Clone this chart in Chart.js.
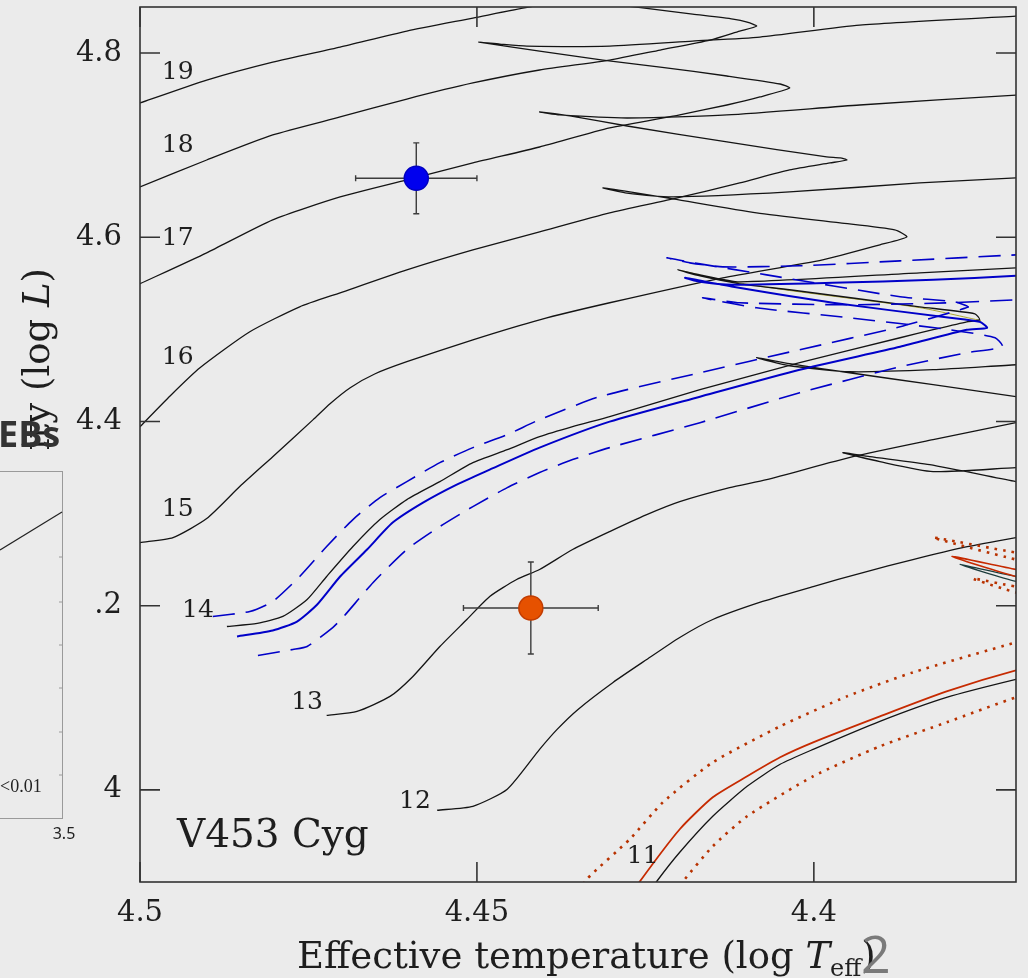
<!DOCTYPE html>
<html>
<head>
<meta charset="utf-8">
<script src="https://cdn.jsdelivr.net/npm/chart.js@4.4.1/dist/chart.umd.min.js"></script>
<style>
  html, body { margin: 0; padding: 0; background: #ebebeb; }
  #wrap { width: 1028px; height: 978px; position: relative; }
</style>
</head>
<body>
<div id="wrap"><canvas id="hrd"></canvas></div>
<script>
// evolutionary tracks, [log Teff, log L]
const track19 = [[4.503,4.738],[4.5,4.7458],[4.4901,4.7707],[4.4803,4.7902],[4.4703,4.8065],[4.4604,4.8239],[4.4506,4.8380],[4.4424,4.8499],[4.4370,4.8560]];
const track18 = [[4.503,4.6458],[4.5,4.6547],[4.4901,4.6839],[4.4803,4.7111],[4.4703,4.7306],[4.4604,4.7501],[4.4506,4.7675],[4.4407,4.7816],[4.4303,4.7924],[4.4228,4.8033],[4.4154,4.8141],[4.4110,4.8239],[4.4085,4.8293],[4.4099,4.8336],[4.4120,4.8369],[4.4180,4.8423],[4.4263,4.8499],[4.4318,4.8542]];
const track17 = [[4.503,4.5393],[4.5,4.5495],[4.4901,4.5831],[4.4803,4.6189],[4.4703,4.6438],[4.4604,4.6623],[4.4506,4.6807],[4.4407,4.6980],[4.4303,4.7187],[4.4199,4.7330],[4.4129,4.7436],[4.4080,4.7523],[4.4036,4.7620],[4.4050,4.7664],[4.4129,4.7751],[4.4228,4.7848],[4.4313,4.7924],[4.4407,4.8022],[4.4497,4.8119],[4.4466,4.8098],[4.4426,4.8076],[4.4303,4.8076],[4.4180,4.8130],[4.4080,4.8174],[4.3932,4.8304],[4.3700,4.8401],[4.3660,4.8425]];
const track16 = [[4.502,4.3794],[4.5,4.3944],[4.4955,4.4280],[4.4911,4.4583],[4.4837,4.4974],[4.4763,4.5245],[4.4703,4.5397],[4.4604,4.5646],[4.4506,4.5863],[4.4407,4.6059],[4.4303,4.6265],[4.4209,4.6416],[4.4110,4.6590],[4.4036,4.6731],[4.3976,4.6807],[4.3951,4.6839],[4.3961,4.6861],[4.3981,4.6872],[4.4129,4.7035],[4.4277,4.7208],[4.4362,4.7317],[4.4407,4.7360],[4.4377,4.7328],[4.4277,4.7295],[4.4129,4.7328],[4.3932,4.7436],[4.3700,4.7544],[4.3660,4.7560]];
const track15 = [[4.503,4.2646],[4.5,4.2685],[4.4951,4.2740],[4.4901,4.2946],[4.4852,4.3293],[4.4803,4.3618],[4.4743,4.4020],[4.4718,4.4193],[4.4688,4.4367],[4.4651,4.4518],[4.4604,4.4649],[4.4506,4.4887],[4.4407,4.5104],[4.4303,4.5289],[4.4135,4.5560],[4.3987,4.5755],[4.3902,4.5918],[4.3862,4.6004],[4.3880,4.6080],[4.3961,4.6156],[4.4085,4.6265],[4.4209,4.6416],[4.4273,4.6492],[4.4313,4.6536],[4.4280,4.6482],[4.4209,4.6438],[4.4036,4.6492],[4.3843,4.6590],[4.3700,4.6644],[4.3660,4.6650]];
const track14 = [[4.4871,4.1774],[4.4826,4.1807],[4.4788,4.1883],[4.4752,4.2067],[4.4723,4.2317],[4.4684,4.2642],[4.4644,4.2935],[4.4604,4.3152],[4.4555,4.3347],[4.4506,4.3553],[4.4455,4.3694],[4.4407,4.3835],[4.4358,4.3944],[4.4303,4.4052],[4.4169,4.4345],[4.4021,4.4638],[4.3872,4.4909],[4.3823,4.4996],[4.3773,4.5082],[4.3754,4.5104],[4.3761,4.5169],[4.3843,4.5245],[4.4036,4.5430],[4.4110,4.5495],[4.4169,4.5581],[4.4202,4.5646],[4.4169,4.5592],[4.4110,4.5516],[4.3843,4.5614],[4.3700,4.5668],[4.3660,4.5672]];
const track14Alt = [[4.3752,4.5095],[4.3843,4.5236],[4.4036,4.5422],[4.4139,4.5540],[4.4199,4.5642]];
const track13 = [[4.4723,4.0809],[4.4678,4.0852],[4.4629,4.1015],[4.4595,4.1232],[4.4555,4.1557],[4.4515,4.1850],[4.4481,4.2100],[4.4441,4.2284],[4.4407,4.2393],[4.4358,4.2610],[4.4303,4.2805],[4.4248,4.2989],[4.4199,4.3130],[4.4125,4.3282],[4.4070,4.3369],[4.3942,4.3618],[4.3823,4.3803],[4.3700,4.3987],[4.3665,4.4041]];
const track13Hook = [[4.3665,4.4236],[4.3700,4.4269],[4.3823,4.4399],[4.3947,4.4529],[4.4036,4.4627],[4.4085,4.4692],[4.4036,4.4605],[4.3947,4.4540],[4.3823,4.4562],[4.3700,4.4616],[4.3665,4.4625]];
const track12 = [[4.4559,3.9779],[4.4506,3.9822],[4.4455,4.0007],[4.4407,4.0440],[4.4381,4.0657],[4.4350,4.0874],[4.4298,4.1167],[4.4248,4.1416],[4.4199,4.1655],[4.4150,4.1850],[4.4076,4.2046],[4.4001,4.2208],[4.3927,4.2360],[4.3853,4.2501],[4.3779,4.2631],[4.3700,4.2740],[4.3665,4.2794]];
const track12Hook = [[4.3665,4.3304],[4.3700,4.3347],[4.3828,4.3531],[4.3917,4.3618],[4.3957,4.3662],[4.3902,4.3564],[4.3823,4.3456],[4.3700,4.3499],[4.3665,4.3505]];
const track11 = [[4.4251,3.8813],[4.4233,3.9008],[4.4199,3.9323],[4.4150,3.9714],[4.4099,4.0039],[4.4050,4.0278],[4.4001,4.0440],[4.3902,4.0744],[4.3803,4.1004],[4.3700,4.1200],[4.3665,4.1250]];
const track11Hook = [[4.3665,4.2284],[4.3700,4.2317],[4.3783,4.2447],[4.3700,4.2263],[4.3665,4.2230]];

// models for the primary (blue) and secondary (red)
const blueSolid = [[4.4856,4.1666],[4.4803,4.1731],[4.4767,4.1828],[4.4737,4.2013],[4.4703,4.2317],[4.4663,4.2610],[4.4625,4.2902],[4.4580,4.3119],[4.4530,4.3315],[4.4481,4.3477],[4.4407,4.3716],[4.4303,4.3998],[4.4169,4.4269],[4.4021,4.4562],[4.3872,4.4811],[4.3773,4.4996],[4.3743,4.5017],[4.3754,4.5082],[4.3798,4.5126],[4.3972,4.5289],[4.4120,4.5462],[4.4191,4.5560],[4.4169,4.5516],[4.4120,4.5484],[4.3972,4.5505],[4.3823,4.5538],[4.3700,4.5581],[4.3665,4.5590]];
const blueDashHi = [[4.4892,4.1883],[4.4837,4.1937],[4.4803,4.2046],[4.4763,4.2317],[4.4723,4.2642],[4.4684,4.2935],[4.4644,4.3174],[4.4604,4.3347],[4.4555,4.3553],[4.4506,4.3716],[4.4455,4.3857],[4.4407,4.4020],[4.4318,4.4269],[4.4169,4.4529],[4.4021,4.4779],[4.3872,4.5028],[4.3783,4.5213],[4.3771,4.5245],[4.3791,4.5299],[4.3872,4.5354],[4.4070,4.5592],[4.4169,4.5711],[4.4218,4.5777],[4.4184,4.5722],[4.4135,4.5679],[4.4021,4.5690],[4.3872,4.5744],[4.3700,4.5809],[4.3665,4.5820]];
const blueDashLo = [[4.4825,4.1460],[4.4773,4.1525],[4.4752,4.1557],[4.4714,4.1763],[4.4699,4.1872],[4.4654,4.2252],[4.4604,4.2610],[4.4555,4.2859],[4.4506,4.3076],[4.4455,4.3282],[4.4407,4.3445],[4.4358,4.3586],[4.4303,4.3716],[4.4169,4.3987],[4.4021,4.4312],[4.3872,4.4594],[4.3773,4.4746],[4.3720,4.4811],[4.3731,4.4909],[4.3798,4.4996],[4.3947,4.5126],[4.4085,4.5234],[4.4165,4.5343],[4.4110,4.5289],[4.3947,4.5267],[4.3798,4.5289],[4.3700,4.5321],[4.3665,4.5325]];
const redSolid = [[4.4280,3.8759],[4.4258,3.9008],[4.4199,3.9573],[4.4150,3.9920],[4.4099,4.0148],[4.4050,4.0354],[4.4001,4.0516],[4.3902,4.0798],[4.3803,4.1069],[4.3700,4.1297],[4.3665,4.1340]];
const redSolidHook = [[4.3665,4.2360],[4.3700,4.2393],[4.3795,4.2534],[4.3700,4.2317],[4.3665,4.2284]];
const redDotHi = [[4.4355,3.8813],[4.4337,3.9030],[4.4273,3.9466],[4.4224,3.9865],[4.4150,4.0299],[4.4050,4.0690],[4.3951,4.1015],[4.3853,4.1276],[4.3700,4.1601],[4.3665,4.1660]];
const redDotHiHook = [[4.3665,4.2555],[4.3700,4.2577],[4.3823,4.2740],[4.3700,4.2501],[4.3665,4.2469]];
const redDotLo = [[4.4214,3.8813],[4.4194,3.9008],[4.4150,3.9388],[4.4099,3.9714],[4.4001,4.0148],[4.3902,4.0473],[4.3803,4.0733],[4.3700,4.1004],[4.3665,4.1050]];
const redDotLoHook = [[4.3665,4.2190],[4.3700,4.2208],[4.3764,4.2295],[4.3700,4.2143],[4.3665,4.2110]];

// V453 Cyg components: secondary, primary
const starX = [4.442, 4.459];
const starY = [4.1975, 4.664];
const starErrX = [0.010, 0.009];
const starErrY = [0.050, 0.0385];

// track mass labels
const massLabels = ['19', '18', '17', '16', '15', '14', '13', '12', '11'];
const massLabelX = [4.4944, 4.4944, 4.4944, 4.4944, 4.4944, 4.4914, 4.4752, 4.4592, 4.4254];
const massLabelY = [4.7794, 4.6991, 4.5983, 4.4692, 4.3043, 4.1948, 4.0950, 3.9876, 3.9280];

const bg = '#ebebeb';
const ink = '#1e1e1e';
const serif = '"DejaVu Serif", serif';

function pts(a) { return a.map(p => ({ x: p[0], y: p[1] })); }
function line(a, color, width, dash) {
  return { data: pts(a), showLine: true, borderColor: color, borderWidth: width,
    borderDash: dash || [], pointRadius: 0, tension: 0.2, fill: false };
}

function drawErrorBars(chart) {
  const ctx = chart.ctx, x = chart.scales.x, y = chart.scales.y;
  ctx.save();
  ctx.strokeStyle = '#3c3c3c';
  ctx.lineWidth = 1.4;
  for (let i = 0; i < starX.length; i++) {
    const px = x.getPixelForValue(starX[i]), py = y.getPixelForValue(starY[i]);
    const x0 = x.getPixelForValue(starX[i] - starErrX[i]), x1 = x.getPixelForValue(starX[i] + starErrX[i]);
    const y0 = y.getPixelForValue(starY[i] - starErrY[i]), y1 = y.getPixelForValue(starY[i] + starErrY[i]);
    ctx.beginPath();
    ctx.moveTo(x0, py); ctx.lineTo(x1, py);
    ctx.moveTo(px, y0); ctx.lineTo(px, y1);
    ctx.moveTo(x0, py - 3); ctx.lineTo(x0, py + 3);
    ctx.moveTo(x1, py - 3); ctx.lineTo(x1, py + 3);
    ctx.moveTo(px - 3, y0); ctx.lineTo(px + 3, y0);
    ctx.moveTo(px - 3, y1); ctx.lineTo(px + 3, y1);
    ctx.stroke();
  }
  ctx.restore();
}

const hrPlugin = {
  id: 'hrPlugin',
  afterDatasetDraw(chart, args) {
    if (args.index === 2) drawErrorBars(chart);
  },
  afterDraw(chart) {
    const ctx = chart.ctx, a = chart.chartArea, x = chart.scales.x, y = chart.scales.y;
    ctx.save();

    // frame and inward ticks
    ctx.strokeStyle = '#333';
    ctx.lineWidth = 1.6;
    ctx.strokeRect(a.left, a.top, a.right - a.left, a.bottom - a.top);
    ctx.beginPath();
    x.ticks.forEach(t => {
      const px = x.getPixelForValue(t.value), len = t.label ? 20 : 10;
      ctx.moveTo(px, a.bottom); ctx.lineTo(px, a.bottom - len);
      ctx.moveTo(px, a.top); ctx.lineTo(px, a.top + len);
    });
    y.ticks.forEach(t => {
      const py = y.getPixelForValue(t.value), len = t.label ? 20 : 10;
      ctx.moveTo(a.left, py); ctx.lineTo(a.left + len, py);
      ctx.moveTo(a.right, py); ctx.lineTo(a.right - len, py);
    });
    ctx.stroke();

    // mass labels
    ctx.fillStyle = ink;
    ctx.font = '25px ' + serif;
    ctx.textAlign = 'center';
    ctx.textBaseline = 'middle';
    massLabels.forEach((s, i) => {
      ctx.fillText(s, x.getPixelForValue(massLabelX[i]), y.getPixelForValue(massLabelY[i]));
    });

    // system name
    ctx.font = '39px ' + serif;
    ctx.textAlign = 'left';
    ctx.textBaseline = 'alphabetic';
    ctx.fillText('V453 Cyg', a.left + 37, a.bottom - 35);

    // x title
    let tx = 297;
    const base = 968;
    const t1 = 'Effective temperature (log ';
    ctx.font = '37px ' + serif;
    ctx.fillText(t1, tx, base); tx += ctx.measureText(t1).width;
    ctx.font = 'italic 37px ' + serif;
    ctx.fillText('T', tx, base); tx += ctx.measureText('T').width;
    ctx.font = '24px ' + serif;
    ctx.fillText('eff', tx, base + 8); tx += ctx.measureText('eff').width;
    ctx.font = '37px ' + serif;
    ctx.fillText(')', tx, base);

    // y title, right end near the top
    const y1 = 'Luminosity (log ';
    ctx.font = '37px ' + serif;
    const w1 = ctx.measureText(y1).width;
    ctx.font = 'italic 37px ' + serif;
    const w2 = ctx.measureText('L').width;
    ctx.font = '37px ' + serif;
    const w3 = ctx.measureText(')').width;
    ctx.save();
    ctx.translate(49, 268);
    ctx.rotate(-Math.PI / 2);
    let ly = -(w1 + w2 + w3);
    ctx.fillText(y1, ly, 0); ly += w1;
    ctx.font = 'italic 37px ' + serif;
    ctx.fillText('L', ly, 0); ly += w2;
    ctx.font = '37px ' + serif;
    ctx.fillText(')', ly, 0);
    ctx.restore();

    // piece of the neighbouring slide panel lying over the left edge
    ctx.fillStyle = bg;
    ctx.fillRect(0, 449, 93, 428);
    ctx.strokeStyle = '#9a9a9a';
    ctx.lineWidth = 1;
    ctx.strokeRect(-10, 471.5, 72.5, 347);
    ctx.beginPath();
    [557, 602, 645, 688, 732, 775].forEach(py => { ctx.moveTo(62, py); ctx.lineTo(59, py); });
    ctx.stroke();
    ctx.strokeStyle = '#222';
    ctx.lineWidth = 1.2;
    ctx.beginPath(); ctx.moveTo(0, 550); ctx.lineTo(62, 512); ctx.stroke();
    ctx.fillStyle = '#222';
    ctx.font = '18px "Liberation Serif", serif';
    ctx.textBaseline = 'middle';
    ctx.fillText('<0.01', 0, 787);
    ctx.font = '16px "Noto Sans", sans-serif';
    ctx.textAlign = 'center';
    ctx.fillText('3.5', 64, 834);
    ctx.fillStyle = '#333';
    ctx.font = 'bold 36px "Open Sans", sans-serif';
    ctx.textAlign = 'left';
    ctx.textBaseline = 'alphabetic';
    ctx.fillText('EBs', -2, 447);

    // slide number
    ctx.fillStyle = '#7a7a7a';
    ctx.font = '52px "Open Sans", sans-serif';
    ctx.fillText('2', 861, 973);
    ctx.restore();
  }
};

const black = '#141414';
const datasets = [
  { data: [{ x: starX[0], y: starY[0] }], pointRadius: 12, pointBackgroundColor: '#e65100',
    pointBorderColor: '#c23c00', pointBorderWidth: 1.5, showLine: false },
  { data: [{ x: starX[1], y: starY[1] }], pointRadius: 12, pointBackgroundColor: '#0000ee',
    pointBorderColor: '#0000c0', pointBorderWidth: 1.5, showLine: false },
  line(redSolid, '#c62a00', 1.8),
  line(redSolidHook, '#c62a00', 1.6),
  line(redDotHi, '#b83200', 2.6, [2.6, 6]),
  line(redDotHiHook, '#b83200', 2.6, [2.6, 6]),
  line(redDotLo, '#b83200', 2.6, [2.6, 6]),
  line(redDotLoHook, '#b83200', 2.6, [2.6, 6]),
  line(blueSolid, '#0000c8', 2),
  line(blueDashHi, '#0000c8', 1.6, [22, 11]),
  line(blueDashLo, '#0000c8', 1.6, [22, 11]),
  line(track19, black, 1.3),
  line(track18, black, 1.3),
  line(track17, black, 1.3),
  line(track16, black, 1.3),
  line(track15, black, 1.3),
  line(track14, black, 1.3),
  line(track13, black, 1.3),
  line(track13Hook, black, 1.3),
  line(track12, black, 1.3),
  line(track12Hook, black, 1.3),
  line(track11, black, 1.3),
  line(track11Hook, '#1d3c3c', 1.3),
  line(track14Alt, '#9c9600', 0.8)
];

const ctx = document.getElementById('hrd').getContext('2d');
const chart = new Chart(ctx, {
  type: 'scatter',
  data: { datasets: datasets },
  options: {
    responsive: true,
    maintainAspectRatio: false,
    animation: false,
    events: [],
    layout: { autoPadding: false, padding: { top: 7, right: 12, left: 0, bottom: 0 } },
    plugins: { legend: { display: false }, tooltip: { enabled: false } },
    scales: {
      x: {
        type: 'linear', reverse: true, min: 4.37, max: 4.5,
        afterFit: s => { s.height = 96; s.paddingLeft = 0; s.paddingRight = 0; },
        grid: { display: false, drawTicks: false },
        border: { display: false },
        ticks: {
          stepSize: 0.01, autoSkip: false, maxRotation: 0, padding: 14,
          color: ink, font: { family: 'DejaVu Serif', size: 29 },
          callback: v => { const r = Math.round(v * 100); return r % 5 === 0 ? String(r / 100) : null; }
        }
      },
      y: {
        type: 'linear', min: 3.9, max: 4.85,
        afterFit: s => { s.width = 140; s.paddingTop = 0; s.paddingBottom = 0; },
        grid: { display: false, drawTicks: false },
        border: { display: false },
        ticks: {
          stepSize: 0.05, autoSkip: false, padding: 18,
          color: ink, font: { family: 'DejaVu Serif', size: 29 },
          callback: v => {
            const r = Math.round(v * 100);
            if (r % 20 !== 0) return null;
            return r === 400 ? '4' : (r / 100).toFixed(1);
          }
        }
      }
    }
  },
  plugins: [hrPlugin]
});
</script>
</body>
</html>
